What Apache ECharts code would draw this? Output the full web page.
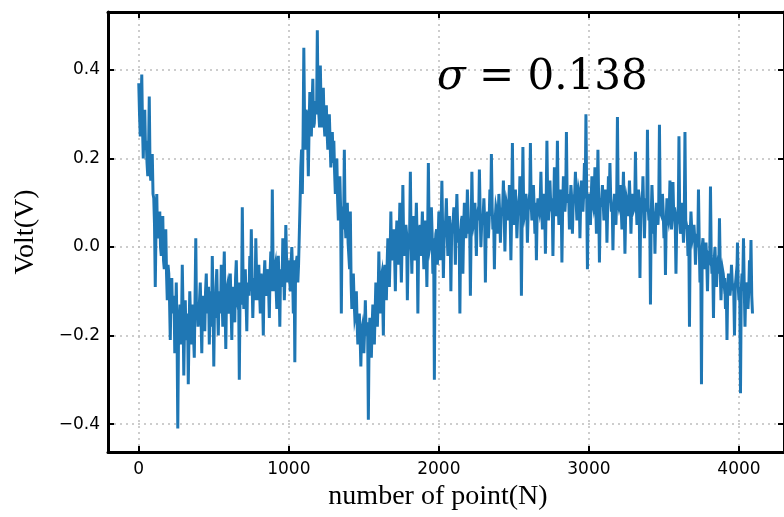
<!DOCTYPE html>
<html>
<head>
<meta charset="utf-8">
<title>Volt vs number of point</title>
<script src="https://cdn.jsdelivr.net/npm/echarts@6/dist/echarts.min.js"></script>
<style>
  html, body { margin: 0; padding: 0; background: #fff; }
  #chart { width: 784px; height: 517px; }
</style>
</head>
<body>
<div id="chart"></div>
<script>
// Sample spacing of the recorded trace (one value every STEP points)
const STEP = 5;

// Measured voltage, one value per STEP points, starting at point 0
const voltSeg0 = [ // points 0 - 995
  0.37, 0.30, 0.25, 0.31, 0.39, 0.27, 0.20, 0.28, 0.31, 0.22, 0.24, 0.19, 0.16, 0.21, 0.34, 0.18, 0.15, 0.20, 0.21, 0.12,
  0.11, 0.05, -0.09, 0.04, 0.12, 0.02, 0.03, 0.06, 0.08, 0.00, -0.02, 0.04, 0.07, -0.03, -0.05, 0.01, 0.04, -0.06, -0.12, -0.04,
  -0.06, -0.12, -0.21, -0.10, -0.07, -0.15, -0.15, -0.11, -0.24, -0.17, -0.08, -0.19, -0.41, -0.20, -0.16, -0.13, -0.22, -0.17, -0.04, -0.14,
  -0.29, -0.18, -0.12, -0.21, -0.20, -0.15, -0.31, -0.19, -0.10, -0.16, -0.22, -0.13, -0.14, -0.20, -0.25, -0.12, 0.02, -0.16, -0.13, -0.18,
  -0.18, -0.12, -0.08, -0.16, -0.24, -0.13, -0.11, -0.17, -0.19, -0.10, -0.06, -0.15, -0.15, -0.09, -0.22, -0.14, -0.10, -0.18, -0.02, -0.12,
  -0.27, -0.13, -0.16, -0.09, -0.05, -0.14, -0.20, -0.10, -0.12, -0.15, -0.04, -0.11, -0.18, -0.08, -0.01, -0.13, -0.23, -0.10, -0.09, -0.14,
  -0.15, -0.08, -0.06, -0.13, -0.21, -0.09, -0.10, -0.14, -0.17, -0.07, -0.03, -0.12, -0.13, -0.08, -0.30, -0.11, -0.08, -0.13, 0.09, -0.07,
  -0.14, -0.06, -0.05, -0.12, -0.19, -0.08, -0.09, -0.11, -0.02, -0.10, 0.04, -0.07, -0.16, -0.09, -0.07, -0.12, 0.02, -0.06, -0.12, -0.08,
  -0.04, -0.10, -0.15, -0.06, -0.08, -0.11, -0.20, -0.07, -0.03, -0.10, -0.11, -0.05, -0.06, -0.09, -0.16, -0.06, -0.01, -0.10, 0.13, -0.04,
  -0.10, -0.05, -0.04, -0.09, -0.14, -0.04, -0.02, -0.08, -0.18, -0.05, -0.06, -0.09, 0.02, -0.04, -0.12, -0.06, 0.05, -0.03, -0.08, -0.05
];
const voltSeg1 = [ // points 1000 - 1995
  -0.03, -0.07, -0.10, -0.04, 0.00, -0.06, -0.15, -0.03, -0.26, -0.05, -0.05, -0.02, -0.08, -0.04, 0.03, 0.10, 0.18, 0.22, 0.12, 0.25,
  0.45, 0.28, 0.22, 0.31, 0.30, 0.26, 0.16, 0.27, 0.35, 0.29, 0.25, 0.32, 0.38, 0.27, 0.28, 0.33, 0.33, 0.30, 0.49, 0.31,
  0.30, 0.27, 0.41, 0.31, 0.27, 0.33, 0.36, 0.28, 0.25, 0.30, 0.32, 0.26, 0.22, 0.28, 0.30, 0.24, 0.18, 0.22, 0.26, 0.19,
  0.24, 0.17, 0.12, 0.16, 0.20, 0.11, 0.06, 0.13, 0.16, 0.09, -0.15, 0.07, 0.08, 0.04, 0.22, 0.06, 0.02, 0.05, 0.10, 0.01,
  -0.02, -0.05, 0.08, -0.08, -0.14, -0.10, -0.06, -0.12, -0.16, -0.15, -0.10, -0.17, -0.22, -0.18, -0.15, -0.20, -0.27, -0.19, -0.18, -0.21,
  -0.24, -0.19, -0.12, -0.20, -0.20, -0.17, -0.39, -0.21, -0.16, -0.19, -0.25, -0.18, -0.13, -0.17, -0.22, -0.15, -0.08, -0.14, -0.18, -0.12,
  -0.01, -0.10, -0.15, -0.07, -0.06, -0.11, -0.20, -0.06, -0.04, -0.08, -0.12, -0.04, 0.02, -0.05, -0.09, -0.02, 0.08, -0.03, -0.03, -0.01,
  0.04, -0.02, -0.10, 0.01, 0.06, -0.01, -0.04, 0.02, 0.10, -0.01, -0.08, 0.01, 0.14, 0.02, -0.02, 0.00, 0.05, 0.03, -0.12, -0.01,
  0.02, 0.03, 0.17, 0.01, -0.06, 0.04, 0.07, 0.00, -0.03, 0.03, 0.10, 0.02, -0.15, 0.01, 0.04, 0.05, -0.02, 0.02, 0.08, 0.01,
  -0.05, 0.03, 0.06, 0.00, -0.09, 0.02, 0.19, 0.04, 0.00, 0.01, 0.09, 0.03, -0.06, 0.02, -0.30, 0.00, 0.03, 0.04, -0.04, 0.02
];
const voltSeg2 = [ // points 2000 - 2995
  0.08, 0.03, -0.03, 0.05, 0.15, 0.04, -0.07, 0.02, 0.05, 0.06, 0.11, 0.03, -0.02, 0.05, 0.07, 0.04, -0.10, 0.03, 0.04, 0.06,
  0.09, 0.04, -0.04, 0.06, 0.12, 0.05, 0.01, 0.04, -0.15, 0.03, 0.06, 0.07, -0.06, 0.04, 0.10, 0.06, 0.02, 0.05, 0.13, 0.07,
  0.03, 0.06, -0.11, 0.04, 0.17, 0.07, 0.05, 0.06, 0.10, 0.05, -0.02, 0.07, 0.08, 0.06, 0.175, 0.08, 0.00, 0.05, 0.06, 0.07,
  0.11, 0.06, -0.08, 0.05, 0.07, 0.08, 0.02, 0.06, 0.13, 0.07, 0.21, 0.09, 0.04, 0.07, -0.05, 0.06, 0.09, 0.08, 0.03, 0.07,
  0.12, 0.08, 0.01, 0.07, 0.08, 0.09, 0.15, 0.08, -0.01, 0.07, 0.10, 0.09, 0.06, 0.08, 0.14, 0.07, -0.03, 0.08, 0.235, 0.09,
  0.05, 0.08, 0.13, 0.09, 0.02, 0.07, 0.09, 0.08, 0.16, 0.10, -0.11, 0.07, 0.226, 0.09, 0.07, 0.08, 0.12, 0.09, 0.01, 0.08,
  0.10, 0.09, 0.235, 0.10, 0.06, 0.08, 0.14, 0.09, 0.03, 0.10, -0.03, 0.08, 0.11, 0.09, 0.08, 0.10, 0.17, 0.09, 0.04, 0.10,
  0.12, 0.09, -0.015, 0.10, 0.24, 0.11, 0.06, 0.09, 0.15, 0.10, 0.09, 0.11, -0.02, 0.09, 0.18, 0.10, 0.07, 0.11, 0.24, 0.10,
  0.05, 0.10, 0.13, 0.11, -0.035, 0.09, 0.16, 0.10, 0.08, 0.11, 0.26, 0.10, 0.10, 0.12, 0.04, 0.10, 0.14, 0.11, 0.03, 0.10,
  0.11, 0.12, 0.17, 0.10, 0.06, 0.11, 0.13, 0.12, 0.02, 0.10, 0.15, 0.11, 0.08, 0.12, 0.19, 0.11, 0.30, 0.12, -0.05, 0.10
];
const voltSeg3 = [ // points 3000 - 4090
  0.12, 0.10, 0.05, 0.11, 0.16, 0.10, 0.09, 0.11, 0.18, 0.10, 0.03, 0.11, 0.22, 0.10, -0.035, 0.09, 0.10, 0.11, 0.14, 0.10,
  0.06, 0.10, 0.13, 0.11, 0.01, 0.09, 0.16, 0.10, 0.19, 0.11, 0.08, 0.10, -0.007, 0.09, 0.12, 0.10, 0.05, 0.11, 0.294, 0.10,
  0.09, 0.10, 0.14, 0.09, 0.04, 0.10, 0.17, 0.09, -0.015, 0.08, 0.11, 0.10, 0.07, 0.09, 0.15, 0.10, 0.03, 0.09, 0.12, 0.08,
  0.08, 0.09, 0.215, 0.10, 0.05, 0.08, 0.13, 0.09, -0.07, 0.08, 0.10, 0.09, 0.16, 0.08, 0.02, 0.09, 0.11, 0.08, 0.265, 0.09,
  0.06, 0.08, -0.13, 0.07, 0.14, 0.09, 0.03, 0.08, -0.015, 0.07, 0.10, 0.08, 0.05, 0.09, 0.276, 0.08, 0.08, 0.07, 0.12, 0.08,
  0.02, 0.07, -0.063, 0.06, 0.11, 0.07, 0.06, 0.08, 0.15, 0.07, 0.04, 0.06, 0.147, 0.07, 0.09, 0.06, -0.06, 0.05, 0.07, 0.06,
  0.25, 0.06, 0.03, 0.05, 0.10, 0.06, 0.01, 0.05, 0.26, 0.06, 0.06, 0.04, -0.02, 0.05, -0.18, 0.03, 0.08, 0.04, 0.02, 0.03,
  0.05, 0.02, -0.04, 0.01, 0.03, 0.00, 0.13, 0.01, -0.08, -0.01, -0.31, 0.00, 0.02, -0.02, -0.05, -0.01, 0.01, -0.03, -0.10, -0.02,
  -0.02, -0.03, 0.137, -0.02, -0.06, -0.04, -0.16, -0.03, 0.00, -0.05, -0.09, -0.04, -0.03, -0.06, 0.065, -0.05, -0.12, -0.07, -0.05, -0.06,
  -0.08, -0.07, -0.14, -0.08, -0.21, -0.09, -0.06, -0.08, -0.11, -0.09, -0.04, -0.08, -0.09, -0.10, -0.20, -0.09, -0.07, -0.08, 0.01, -0.09,
  -0.12, -0.09, -0.33, -0.10, -0.06, -0.08, 0.02, -0.09, -0.18, -0.10, -0.09, -0.08, -0.14, -0.10, -0.03, -0.09, 0.016, -0.11, -0.15
];
const volt = voltSeg0.concat(voltSeg1, voltSeg2, voltSeg3);

// Axis extents and labels
const xRange = [-205, 4300];
const yRange = [-0.463, 0.531];
const xTitle = 'number of point(N)';
const yTitle = 'Volt(V)';
const sigmaText = '0.138';

const seriesData = volt.map((v, i) => [i * STEP, v]);

const fmtX = v => String(v);
const fmtY = v => (v < 0 ? '\u2212' : '') + Math.abs(v).toFixed(1);

const tickStyle = { show: true, inside: true, length: 6, lineStyle: { color: '#000', width: 2 } };
const frameLine = { show: true, onZero: false, lineStyle: { color: '#000', width: 3 } };
const gridLine = { show: true, lineStyle: { color: '#bdbdbd', width: 1.5, type: [2, 4] } };

const chart = echarts.init(document.getElementById('chart'), null, { renderer: 'canvas' });
chart.setOption({
  animation: false,
  backgroundColor: '#ffffff',
  grid: { left: 108, top: 12, width: 679, height: 440, containLabel: false },
  xAxis: [
    {
      type: 'value', position: 'bottom', min: xRange[0], max: xRange[1], splitNumber: 5,
      axisLine: frameLine, axisTick: tickStyle, splitLine: gridLine,
      axisLabel: { show: true, margin: 9, color: '#000', fontSize: 17, fontFamily: 'DejaVu Sans',
                   formatter: fmtX, showMinLabel: false, showMaxLabel: false },
      name: xTitle, nameLocation: 'middle', nameGap: 31,
      nameTextStyle: { fontFamily: 'Liberation Serif', fontSize: 28, color: '#000', padding: [0, 16, 0, 0] }
    },
    {
      type: 'value', position: 'top', min: xRange[0], max: xRange[1], splitNumber: 5,
      axisLine: frameLine, axisTick: tickStyle, splitLine: { show: false }, axisLabel: { show: false }
    }
  ],
  yAxis: [
    {
      type: 'value', position: 'left', min: yRange[0], max: yRange[1], splitNumber: 5,
      axisLine: frameLine, axisTick: tickStyle, splitLine: gridLine,
      axisLabel: { show: true, margin: 8, color: '#000', fontSize: 17, fontFamily: 'DejaVu Sans',
                   formatter: fmtY, showMinLabel: false, showMaxLabel: false },
      name: yTitle, nameLocation: 'middle', nameGap: 68, nameRotate: 90,
      nameTextStyle: { fontFamily: 'Liberation Serif', fontSize: 28, color: '#000' }
    },
    {
      type: 'value', position: 'right', min: yRange[0], max: yRange[1], splitNumber: 5,
      axisLine: frameLine, axisTick: tickStyle, splitLine: { show: false }, axisLabel: { show: false }
    }
  ],
  series: [{
    type: 'line',
    data: seriesData,
    showSymbol: false,
    symbol: 'none',
    lineStyle: { color: '#1f77b4', width: 3, join: 'miter' },
    z: 3
  }],
  graphic: [{
    type: 'text',
    left: 437, top: 57,
    z: 10,
    style: {
      text: '{i|\u03c3} = ' + sigmaText,
      fill: '#000',
      font: '42px "DejaVu Serif"',
      rich: {
        i: { fontStyle: 'italic', fontFamily: 'DejaVu Serif', fontSize: 42, fill: '#000' }
      }
    }
  }]
});
</script>
</body>
</html>
